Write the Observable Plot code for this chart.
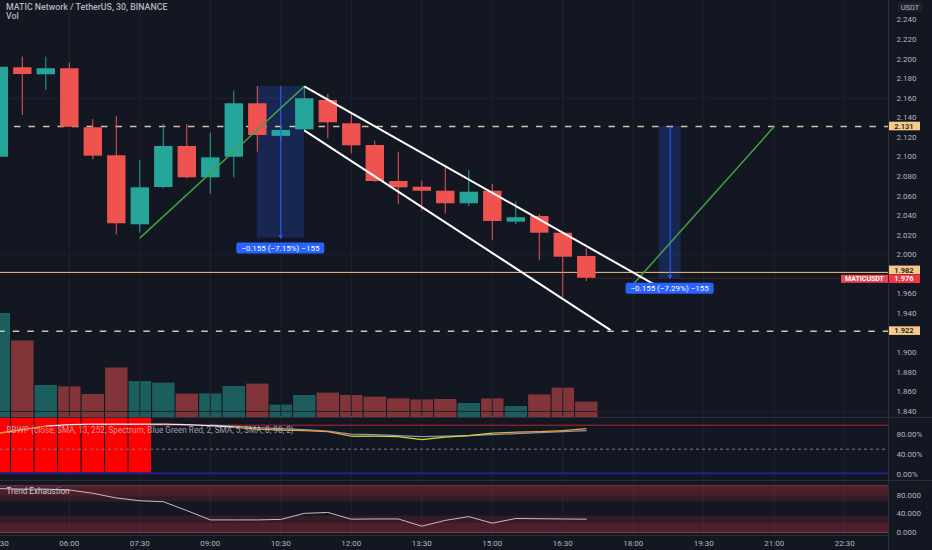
<!DOCTYPE html>
<html><head><meta charset="utf-8">
<script src="https://cdn.jsdelivr.net/npm/d3@7"></script>
<script src="https://cdn.jsdelivr.net/npm/@observablehq/plot@0.6"></script>
<style>
body{margin:0;background:#131722;}
#root{position:relative;width:932px;height:550px;background:#131722;overflow:hidden;font-family:Roboto,"Liberation Sans",sans-serif;}
#root svg{position:absolute;left:0;}
.hdr{position:absolute;left:6px;color:#b2b5be;font-size:8.8px;font-weight:500;white-space:nowrap;}
.sep{position:absolute;background:#2a2e39;}
</style></head><body><div id="root"></div>
<script>
// ---------- data ----------
const times  = ["04:30","05:00","05:30","06:00","06:30","07:00","07:30","08:00","08:30","09:00","09:30","10:00","10:30",
                "11:00","11:30","12:00","12:30","13:00","13:30","14:00","14:30","15:00","15:30","16:00","16:30","17:00"];
const open   = [2.0997,2.1910,2.1838,2.1900,2.1297,2.1011,2.0306,2.0687,2.1106,2.0786,2.0997,2.1542,2.1209,
                2.1276,2.1576,2.1338,2.1116,2.0748,2.0690,2.0649,2.0521,2.0649,2.0333,2.0391,2.0220,1.9982];
const high   = [2.1950,2.2018,2.2018,2.1959,2.1379,2.1412,2.0963,2.1331,2.1331,2.1242,2.1671,2.1719,2.1300,
                2.1719,2.1637,2.1440,2.1160,2.1048,2.0751,2.0888,2.0861,2.0718,2.0537,2.0411,2.0230,2.0061];
const low    = [2.0950,2.1422,2.1678,2.1300,2.0970,2.0204,2.0220,2.0674,2.0776,2.0616,2.0786,2.1048,2.1150,
                2.1260,2.1184,2.1031,2.0740,2.0513,2.0445,2.0418,2.0493,2.0146,2.0309,1.9941,1.9563,1.9727];
const close  = [2.1916,2.1841,2.1900,2.1303,2.1007,2.0316,2.0684,2.1106,2.0786,2.0990,2.1542,2.1218,2.1270,
                2.1593,2.1348,2.1113,2.0748,2.0684,2.0649,2.0521,2.0639,2.0340,2.0378,2.0220,1.9975,1.9760];
const volume = [5.20,3.83,1.60,1.53,1.15,2.47,1.80,1.72,1.17,1.18,1.55,1.67,0.62,
                1.10,1.22,1.10,1.02,0.93,0.88,0.90,0.70,0.93,0.55,1.13,1.47,0.77];
const bbwp   = [82,89,96,99,100,100,100,100,99,97,94,90,88,87,85,76,76,75,69,74,77,82,84,85,87,91];
const bbwpMA = [null,null,null,null,null,null,null,null,null,98,96,93,91,89,86,80,79,77,75,76,77,79,81,83,85,87];
const bbwpHigh = [1,1,1,1,1,1,1,0,0,0,0,0,0,0,0,0,0,0,0,0,0,0,0,0,0,0];
const trendExh = [94,93,93,91,84,74,68,66,47,27,27,27,28,41,43,28.5,29,29,13.5,26,34,20,30,29.5,29,28.5];

const timeTicks  = ["04:30","06:00","07:30","09:00","10:30","12:00","13:30","15:00","16:30","18:00","19:30","21:00","22:30"];
const priceTicks = [1.84,1.86,1.88,1.90,1.92,1.94,1.96,1.98,2.00,2.02,2.04,2.06,2.08,2.10,2.12,2.14,2.16,2.18,2.20,2.22,2.24];
const priceGrid  = [2.16,2.00,1.84];
const pctTicks   = [0,40,80];
const teTicks    = [0,40,80];

const dashedLevels = [{p:2.131, from:"04:50"},{p:1.922, from:"04:30"}];
const markLevel = 1.982;
const lastPrice = 1.976;
const greenLines = [{t1:"07:30",p1:2.017,t2:"11:00",p2:2.172},{t1:"18:00",p1:1.970,t2:"21:00",p2:2.131}];
const channelLines = [{t1:"11:00",p1:2.172,t2:"18:26",p2:1.970},{t1:"11:00",p1:2.127,t2:"17:31",p2:1.923}];
const measures = [
  {t1:"10:00",t2:"11:00",tm:"10:30",p1:2.172,p2:2.017,label:"\u22120.155 (\u22127.15%) \u2212155"},
  {t1:"18:33",t2:"19:01",tm:"18:47",p1:2.131,p2:1.976,label:"\u22120.155 (\u22127.29%) \u2212155"}
];
const teZones = [{a:78,b:100,o:0.26},{a:65,b:78,o:0.15},{a:20,b:35,o:0.15},{a:0,b:20,o:0.26}];

// ---------- helpers ----------
const T = s => { const [h,m] = s.split(":").map(Number); return new Date(Date.UTC(2021,4,24,h,m)); };
const xDomain = [new Date(Date.UTC(2021,4,24,4,32,10)), new Date(Date.UTC(2021,4,24,23,25,48))];
const TEAL = "#26a69a", RED = "#ef5350";
const FONT = "Roboto, 'Liberation Sans', sans-serif";
const candles = times.map((t,i)=>({t:T(t),o:open[i],h:high[i],l:low[i],c:close[i],v:volume[i],up:close[i]>=open[i],
  bb:bbwp[i],ma:bbwpMA[i],hi:bbwpHigh[i],te:trendExh[i]}));
const baseStyle = {background:"transparent",color:"#b2b5be",fontSize:"8px",fontFamily:FONT,overflow:"visible"};
const xOpt = {type:"utc",domain:xDomain,axis:null};
const root = document.getElementById("root");
const tagPrices = [...dashedLevels.map(d=>d.p), markLevel, lastPrice];
const shownTicks = priceTicks.filter(p => tagPrices.every(q => Math.abs(p-q) > 0.006));

// ---------- volume (underlay) ----------
const volPlot = Plot.plot({
  width:932,height:140,marginTop:0,marginBottom:0,marginLeft:0,marginRight:44,style:baseStyle,
  x:xOpt, y:{domain:[0,7],axis:null},
  marks:[Plot.ruleX(candles,{x:"t",y1:0,y2:"v",stroke:d=>d.up?TEAL:RED,strokeOpacity:0.5,strokeWidth:22.4})]
});
volPlot.style.top = "277px";
root.appendChild(volPlot);

// ---------- main price pane ----------
const main = Plot.plot({
  width:932,height:416,marginTop:0,marginBottom:0,marginLeft:0,marginRight:44,style:baseStyle,
  x:xOpt, y:{domain:[1.8348,2.2597],axis:null},
  marks:[
    Plot.ruleX(timeTicks,{x:T,stroke:"#1e222d"}),
    Plot.ruleY(priceGrid,{stroke:"#1e222d"}),
    Plot.rect(measures,{x1:d=>T(d.t1),x2:d=>T(d.t2),y1:"p1",y2:"p2",fill:"#2962ff",fillOpacity:0.22}),
    Plot.ruleY([markLevel],{stroke:"#f5c27d",strokeWidth:1}),
    Plot.ruleY(dashedLevels,{y:"p",x1:d=>T(d.from),x2:xDomain[1],stroke:"#cfc3aa",strokeWidth:1.5,strokeDasharray:"6.5,8"}),
    Plot.ruleY([lastPrice],{x1:T(times[times.length-1]),x2:xDomain[1],stroke:RED,strokeOpacity:0.55,strokeDasharray:"1,2"}),
    Plot.ruleX(candles,{x:"t",y1:"l",y2:"h",stroke:d=>d.up?TEAL:RED,strokeWidth:1}),
    Plot.ruleX(candles,{x:"t",y1:"o",y2:"c",stroke:d=>d.up?TEAL:RED,strokeWidth:18.4}),
    Plot.arrow(measures,{x:d=>T(d.tm),y1:"p1",y2:"p2",stroke:"#2962ff",strokeWidth:1,headLength:5}),
    Plot.link(greenLines,{x1:d=>T(d.t1),y1:"p1",x2:d=>T(d.t2),y2:"p2",stroke:"#43a047",strokeWidth:1.5}),
    Plot.link(channelLines,{x1:d=>T(d.t1),y1:"p1",x2:d=>T(d.t2),y2:"p2",stroke:"#ffffff",strokeWidth:2}),
    Plot.axisY(shownTicks,{anchor:"right",tickSize:0,tickPadding:8,tickFormat:d3.format(".3f"),label:null,fontSize:8})
  ]
});
main.style.top = "0px";
root.appendChild(main);
{
  const xs = main.scale("x"), ys = main.scale("y");
  const svg = d3.select(main);
  // measure labels
  for (const m of measures) {
    const cx = xs.apply(T(m.tm)), y0 = ys.apply(m.p2) + 5;
    const g = svg.append("g");
    g.append("rect").attr("x",cx-44).attr("y",y0).attr("width",88).attr("height",11).attr("rx",2).attr("fill","#2962ff");
    g.append("text").attr("x",cx).attr("y",y0+5.5).attr("dy","0.35em").attr("text-anchor","middle")
      .attr("fill","#ffffff").attr("font-size",8).attr("font-family",FONT).text(m.label);
  }
  // price tags on the axis
  const tag = (p,text,bg,fg,shift=0) => {
    const y = ys.apply(p)+shift;
    svg.append("rect").attr("x",888).attr("y",y-4.3).attr("width",32).attr("height",8.6).attr("fill",bg);
    svg.append("text").attr("x",904).attr("y",y).attr("dy","0.35em").attr("text-anchor","middle")
      .attr("fill",fg).attr("font-size",7.5).attr("font-weight",600).attr("font-family",FONT).text(text);
  };
  for (const d of dashedLevels) tag(d.p,d3.format(".3f")(d.p),"#f7c98b","#131722");
  tag(markLevel,d3.format(".3f")(markLevel),"#f7c98b","#131722",-2);
  tag(lastPrice,d3.format(".3f")(lastPrice),"#f23645","#ffffff",1);
  const yl = ys.apply(lastPrice)+1;
  svg.append("rect").attr("x",841).attr("y",yl-4).attr("width",47).attr("height",8).attr("fill","#e84855");
  svg.append("text").attr("x",864.5).attr("y",yl).attr("dy","0.35em").attr("text-anchor","middle")
    .attr("fill","#ffffff").attr("font-size",7).attr("font-weight",600).attr("font-family",FONT).text("MATICUSDT");
  // currency label
  svg.append("rect").attr("x",898).attr("y",2.5).attr("width",24).attr("height",9).attr("fill","#1e222d");
  svg.append("text").attr("x",910).attr("y",7).attr("dy","0.35em").attr("text-anchor","middle")
    .attr("fill","#b2b5be").attr("font-size",7.5).attr("font-family",FONT).text("USDT");
}

// ---------- BBWP pane ----------
const segs = [];
for (let i=1;i<candles.length;i++){
  const a=candles[i-1], b=candles[i];
  const v=(a.bb+b.bb)/2;
  segs.push({t1:a.t,t2:b.t,v1:a.bb,v2:b.bb,col: v>=95 ? "#f3e9ea" : v>=80 ? "#f0a13a" : "#d6d830"});
}
const bbDom = [-12.6,113.4];
const bb = Plot.plot({
  width:932,height:63,marginTop:0,marginBottom:0,marginLeft:0,marginRight:44,style:baseStyle,
  x:xOpt, y:{domain:bbDom,axis:null},
  marks:[
    Plot.ruleX(timeTicks,{x:T,stroke:"#1e222d"}),
    Plot.ruleX(candles.filter(d=>d.hi),{x:"t",y1:0,y2:bbDom[1],stroke:"#ff0000",strokeWidth:22.4}),
    Plot.ruleY([98],{stroke:"#b22630",strokeWidth:1}),
    Plot.ruleY([50],{stroke:"#787b86",strokeDasharray:"3,3"}),
    Plot.ruleY([2],{stroke:"#1f1f8f",strokeWidth:2}),
    Plot.line(candles.filter(d=>d.ma!=null),{x:"t",y:"ma",stroke:"#8d96a8",strokeWidth:1.2}),
    Plot.link(segs,{x1:"t1",x2:"t2",y1:"v1",y2:"v2",stroke:"col",strokeWidth:1.3}),
    Plot.axisY(pctTicks,{anchor:"right",tickSize:0,tickPadding:8,tickFormat:d=>d3.format(".2f")(d)+"%",label:null,fontSize:8}),
    Plot.text(["BBWP (close, SMA, 13, 252, Spectrum, Blue Green Red, 2, SMA, 5, SMA, 8, 98, 2)"],
      {frameAnchor:"top-left",dx:6,dy:9.5,text:d=>d,fill:"#c9ccd4",fillOpacity:0.75,fontSize:8.2,textAnchor:"start"})
  ]
});
bb.style.top = "417px";
root.appendChild(bb);

// ---------- Trend Exhaustion pane + time axis ----------
const teDom = [-6.43,111.4];
const te = Plot.plot({
  width:932,height:70,marginTop:0,marginBottom:15,marginLeft:0,marginRight:44,style:baseStyle,
  x:xOpt, y:{domain:teDom,axis:null},
  marks:[
    Plot.ruleX(timeTicks,{x:T,stroke:"#1e222d"}),
    Plot.rect(teZones,{x1:xDomain[0],x2:xDomain[1],y1:"a",y2:"b",fill:"#f23645",fillOpacity:"o"}),
    Plot.ruleY([100,0],{stroke:"#7a3a48",strokeWidth:1}),
    Plot.line(candles,{x:"t",y:"te",stroke:"#c4bcc8",strokeWidth:1}),
    Plot.axisY(teTicks,{anchor:"right",tickSize:0,tickPadding:8,tickFormat:d3.format(".3f"),label:null,fontSize:8}),
    Plot.axisX(timeTicks.map(T),{anchor:"bottom",tickSize:0,tickPadding:5,tickFormat:d3.utcFormat("%H:%M"),label:null,fontSize:8}),
    Plot.text(["Trend Exhaustion"],{frameAnchor:"top-left",dx:6,dy:8,text:d=>d,fill:"#c9ccd4",fontSize:8.2,textAnchor:"start"})
  ]
});
te.style.top = "480px";
root.appendChild(te);

// ---------- frame pieces ----------
const sep = (l,t,w,h) => { const d=document.createElement("div"); d.className="sep";
  Object.assign(d.style,{left:l+"px",top:t+"px",width:w+"px",height:h+"px"}); root.appendChild(d); };
sep(0,416.5,932,1); sep(0,479.5,932,1); sep(0,535,888,1); sep(888,0,1,550);
const hdr = (t,top) => { const d=document.createElement("div"); d.className="hdr"; d.textContent=t; d.style.top=top+"px"; root.appendChild(d); };
hdr("MATIC Network / TetherUS, 30, BINANCE",1.5);
hdr("Vol",10.5);
</script></body></html>
